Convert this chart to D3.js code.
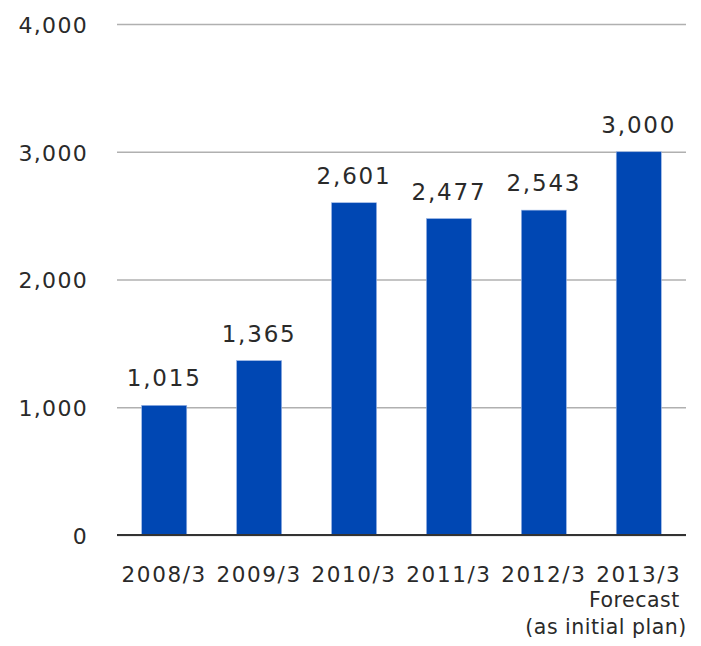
<!doctype html>
<html lang="en">
<head>
    <meta charset="UTF-8">
    <title>Chart</title>
    <style>
        body { margin: 0; background: #fff; }
        text { font-family: "DejaVu Sans", Verdana, sans-serif; fill: #2a2a2a; }
        .bar { fill: #0047b3; stroke: #9fb8e6; stroke-width: 0.6; }
        .grid line { stroke: #b0b0b0; stroke-width: 1.5; }
        .grid .domain { display: none; }
    </style>
</head>
<body>
    <svg width="701" height="646"></svg>
    <script src="https://cdn.jsdelivr.net/npm/d3@7"></script>
    <script>
    var years = ['2008/3', '2009/3', '2010/3', '2011/3', '2012/3', '2013/3'];
    var values = [1015, 1365, 2601, 2477, 2543, 3000];
    var yTicks = [0, 1000, 2000, 3000, 4000];
    var noteLines = ['Forecast', '(as initial plan)'];

    var svg = d3.select('svg'),
        margin = { top: 24, right: 15, bottom: 111, left: 117 },
        width = svg.attr('width') - margin.left - margin.right,
        height = svg.attr('height') - margin.top - margin.bottom;

    var x = d3.scaleBand()
        .domain(years)
        .range([0, width])
        .paddingInner(0.525)
        .paddingOuter(0.26);
    var y = d3.scaleLinear()
        .domain([0, 4000])
        .range([height, 0]);
    var fmt = d3.format(',');

    var g = svg.append('g')
        .attr('transform', 'translate(' + margin.left + ',' + margin.top + ')');

    // gridlines
    g.append('g')
        .attr('class', 'grid')
        .call(d3.axisLeft(y).tickValues(yTicks).tickSize(-width).tickFormat(''));

    // y labels
    g.selectAll('.ylab')
        .data(yTicks)
        .enter().append('text')
        .attr('class', 'ylab')
        .attr('x', -29)
        .attr('y', function(d) { return y(d); })
        .attr('dy', '0.4em')
        .attr('text-anchor', 'end')
        .attr('font-size', '22px')
        .attr('letter-spacing', '1.3px')
        .text(fmt);

    g.selectAll('.bar')
        .data(values)
        .enter().append('rect')
        .attr('class', 'bar')
        .attr('x', function(d, i) { return x(years[i]); })
        .attr('y', function(d) { return y(d); })
        .attr('width', x.bandwidth())
        .attr('height', function(d) { return height - y(d); });

    // baseline
    g.append('line')
        .attr('x1', 0).attr('x2', width)
        .attr('y1', y(0)).attr('y2', y(0))
        .attr('stroke', '#333').attr('stroke-width', 2);

    g.selectAll('.val')
        .data(values)
        .enter().append('text')
        .attr('class', 'val')
        .attr('text-anchor', 'middle')
        .attr('x', function(d, i) { return x(years[i]) + x.bandwidth() / 2; })
        .attr('y', function(d) { return y(d) - 19; })
        .attr('font-size', '23px')
        .attr('letter-spacing', '1.8px')
        .text(fmt);

    g.selectAll('.xlab')
        .data(years)
        .enter().append('text')
        .attr('class', 'xlab')
        .attr('text-anchor', 'middle')
        .attr('x', function(d) { return x(d) + x.bandwidth() / 2; })
        .attr('y', height + 47)
        .attr('font-size', '21.5px')
        .attr('letter-spacing', '1.6px')
        .text(function(d) { return d; });

    var lastEnd = x(years[years.length - 1]) + x.bandwidth() / 2;
    g.selectAll('.note')
        .data(noteLines)
        .enter().append('text')
        .attr('class', 'note')
        .attr('text-anchor', 'end')
        .attr('x', function(d, i) { return lastEnd + 41 + i * 7; })
        .attr('y', function(d, i) { return height + 72 + i * 27; })
        .attr('font-size', '20.5px')
        .attr('letter-spacing', '0.5px')
        .text(function(d) { return d; });
    </script>
</body>
</html>
